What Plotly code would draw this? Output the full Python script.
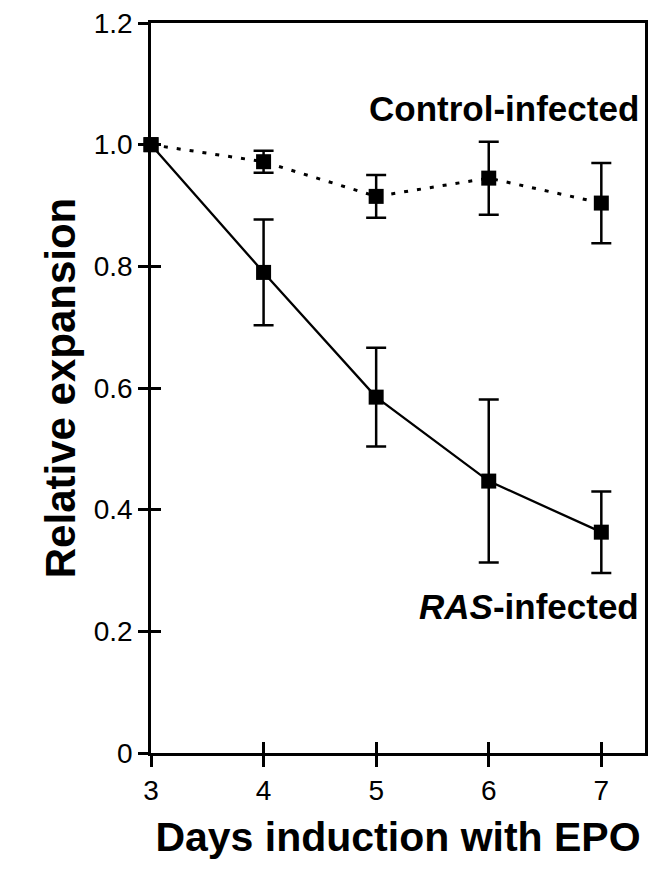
import plotly.graph_objects as go

days = [3, 4, 5, 6, 7]
ras_values = [1.0, 0.79, 0.585, 0.447, 0.363]
ras_errors = [0.0, 0.087, 0.081, 0.134, 0.067]
control_values = [1.0, 0.972, 0.915, 0.945, 0.904]
control_errors = [0.0, 0.018, 0.035, 0.06, 0.066]
y_tickvals = [0, 0.2, 0.4, 0.6, 0.8, 1.0, 1.2]
y_ticktext = ["0", "0.2", "0.4", "0.6", "0.8", "1.0", "1.2"]
x_tickvals = [3, 4, 5, 6, 7]
x_ticktext = ["3", "4", "5", "6", "7"]

FONT = "Liberation Sans, Arial, sans-serif"

fig = go.Figure()

fig.add_trace(go.Scatter(
    x=days, y=control_values, mode="lines+markers",
    line=dict(color="black", width=3, dash="4px,9px"),
    marker=dict(symbol="square", size=15, color="black"),
    error_y=dict(type="data", array=control_errors, visible=True,
                 color="black", thickness=2.5, width=10),
    cliponaxis=False, showlegend=False,
))
fig.add_trace(go.Scatter(
    x=days, y=ras_values, mode="lines+markers",
    line=dict(color="black", width=2.3),
    marker=dict(symbol="square", size=15, color="black"),
    error_y=dict(type="data", array=ras_errors, visible=True,
                 color="black", thickness=2.5, width=10),
    cliponaxis=False, showlegend=False,
))
# invisible trace to host the overlay axes (used for crossing ticks)
fig.add_trace(go.Scatter(x=[days[0]], y=[ras_values[0]], xaxis="x2", yaxis="y2",
                         mode="markers", marker=dict(opacity=0),
                         showlegend=False, hoverinfo="skip"))

xr = [3, 7.388]
yr = [0, 1.2]

L, R, T, B = 151, 8, 23, 116
W, H = 653, 869

fig.update_layout(
    width=W, height=H,
    margin=dict(l=L, r=R, t=T, b=B),
    plot_bgcolor="white", paper_bgcolor="white",
    font=dict(family=FONT, color="black"),
    xaxis=dict(range=xr, tickvals=x_tickvals, ticktext=x_ticktext,
               showgrid=False, zeroline=False, showline=True, linecolor="black",
               linewidth=2.5, mirror=True, ticks="outside", ticklen=11,
               tickwidth=2.5, tickcolor="black", automargin=False,
               tickfont=dict(size=28, family=FONT),
               title=dict(text="<b>Days induction with EPO</b>",
                          font=dict(size=41, family=FONT), standoff=17)),
    yaxis=dict(range=yr, tickvals=y_tickvals, ticktext=y_ticktext,
               showgrid=False, zeroline=False, showline=True, linecolor="black",
               linewidth=2.5, mirror=True, ticks="outside", ticklen=10,
               tickwidth=2.5, tickcolor="black", automargin=False,
               tickfont=dict(size=28, family=FONT),
               title=dict(text="<b>Relative expansion</b>",
                          font=dict(size=42, family=FONT), standoff=6)),
    xaxis2=dict(range=xr, overlaying="x", anchor="y", side="bottom",
                tickvals=x_tickvals, showticklabels=False, showgrid=False,
                zeroline=False, showline=False, ticks="inside", ticklen=11,
                tickwidth=2.5, tickcolor="black"),
    yaxis2=dict(range=yr, overlaying="y", anchor="x", side="left",
                tickvals=y_tickvals, showticklabels=False, showgrid=False,
                zeroline=False, showline=False, ticks="inside", ticklen=10,
                tickwidth=2.5, tickcolor="black"),
)

plot_w = W - L - R
plot_h = H - T - B
def px_to_paper(px, py):
    return (px - L) / plot_w, (H - B - py) / plot_h

c_x, c_y = px_to_paper(641, 108)
r_x, r_y = px_to_paper(641, 606)
fig.add_annotation(text="<b>Control-infected</b>", x=c_x, y=c_y, xref="paper", yref="paper",
                   xanchor="right", yanchor="middle", showarrow=False,
                   font=dict(size=35, family=FONT))
fig.add_annotation(text="<b><i>RAS</i>-infected</b>", x=r_x, y=r_y, xref="paper", yref="paper",
                   xanchor="right", yanchor="middle", showarrow=False,
                   font=dict(size=35, family=FONT))

fig.write_html("out.html")
